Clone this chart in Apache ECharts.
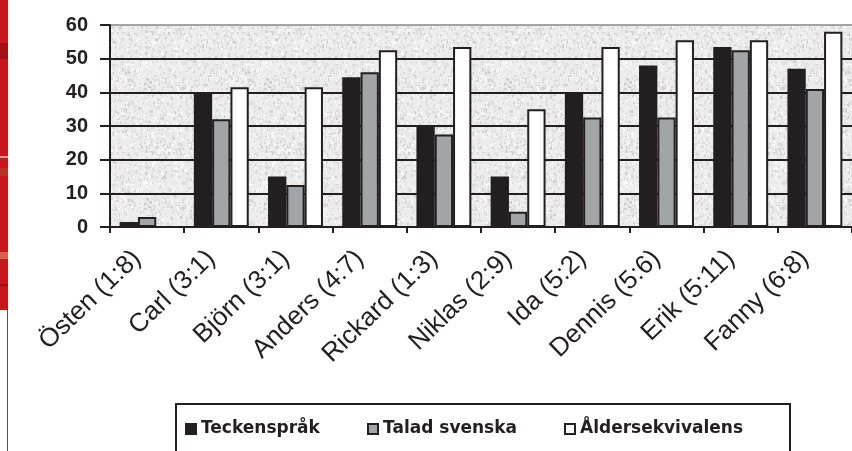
<!DOCTYPE html>
<html>
<head>
<meta charset="utf-8">
<script src="https://cdn.jsdelivr.net/npm/echarts@6/dist/echarts.min.js"></script>
<style>
  html, body { margin: 0; padding: 0; background: #ffffff; }
  #chart { width: 852px; height: 451px; }
</style>
</head>
<body>
<div id="chart"></div>
<script>
// Categories: child name with age (years:months)
const categories = ['Östen (1:8)', 'Carl (3:1)', 'Björn (3:1)', 'Anders (4:7)', 'Rickard (1:3)',
  'Niklas (2:9)', 'Ida (5:2)', 'Dennis (5:6)', 'Erik (5:11)', 'Fanny (6:8)'];

// Series values
const teckensprak      = [1.5, 40, 15, 44.5, 30, 15, 40, 48, 53.5, 47];
const taladSvenska     = [3, 32, 12.5, 46, 27.5, 4.5, 32.5, 32.5, 52.5, 41];
const aldersekvivalens = [null, 41.5, 41.5, 52.5, 53.5, 35, 53.5, 55.5, 55.5, 58];

const seriesNames = ['Teckenspråk', 'Talad svenska', 'Åldersekvivalens'];
const yTicks = { min: 0, max: 60, interval: 10 };

const INK = '#231f20';

// Speckled grey fill for the plot area (deterministic LCG so it never changes)
function speckle() {
  const c = document.createElement('canvas');
  c.width = 120; c.height = 120;
  const g = c.getContext('2d');
  g.fillStyle = '#ececec';
  g.fillRect(0, 0, 120, 120);
  let s = 12345;
  const next = () => { s = (s * 1103515245 + 12345) & 0x7fffffff; return s / 0x7fffffff; };
  for (let i = 0; i < 2000; i++) {
    const x = Math.floor(next() * 120), y = Math.floor(next() * 120);
    const t = next();
    g.fillStyle = t < 0.45 ? '#dcdcdc' : (t < 0.58 ? '#cfcfcf' : '#f7f7f7');
    g.fillRect(x, y, 1 + Math.floor(next() * 2), 1 + Math.floor(next() * 3));
  }
  return c;
}

const chart = echarts.init(document.getElementById('chart'), null, { renderer: 'canvas' });

const barStyle = (fill) => ({ color: fill, borderColor: INK, borderWidth: 2 });

const legendBase = {
  orient: 'horizontal', top: 420, padding: 0,
  itemWidth: 10, itemHeight: 10, icon: 'rect',
  textStyle: { fontFamily: 'DejaVu Sans', fontWeight: 'bold', fontSize: 17, color: INK, lineHeight: 18 },
  selectedMode: false
};

chart.setOption({
  animation: false,
  backgroundColor: '#ffffff',
  grid: {
    show: true, left: 110, top: 25, width: 748, bottom: 224,
    backgroundColor: { image: speckle(), repeat: 'repeat' },
    borderWidth: 0
  },
  legend: [
    Object.assign({}, legendBase, { data: [seriesNames[0]], left: 185 }),
    Object.assign({}, legendBase, { data: [seriesNames[1]], left: 367 }),
    Object.assign({}, legendBase, { data: [seriesNames[2]], left: 564 })
  ],
  graphic: [
    // red band on the left page edge
    { type: 'rect', left: 0, top: 0, shape: { width: 8, height: 310 }, style: { fill: '#c8161d' }, z: -1 },
    { type: 'rect', left: 0, top: 43, shape: { width: 8, height: 16 }, style: { fill: '#a70d14' }, z: -1 },
    { type: 'rect', left: 0, top: 156, shape: { width: 8, height: 2 }, style: { fill: '#e39a8e' }, z: -1 },
    { type: 'rect', left: 0, top: 168, shape: { width: 8, height: 8 }, style: { fill: '#b83226' }, z: -1 },
    { type: 'rect', left: 0, top: 252, shape: { width: 8, height: 7 }, style: { fill: '#d9604c' }, z: -1 },
    { type: 'rect', left: 0, top: 284, shape: { width: 8, height: 2 }, style: { fill: '#9c0c12' }, z: -1 },
    { type: 'line', shape: { x1: 7.5, y1: 310, x2: 7.5, y2: 451 }, style: { stroke: '#555555', lineWidth: 1 }, z: -1 },
    // legend frame
    { type: 'rect', shape: { x: 176, y: 404, width: 614, height: 80 },
      style: { fill: '#ffffff', stroke: INK, lineWidth: 2 }, z: -1 }
  ],
  xAxis: {
    type: 'category',
    data: categories,
    boundaryGap: true,
    axisLine: { show: true, lineStyle: { color: INK, width: 2 } },
    axisTick: { show: true, interval: 0, length: 6, lineStyle: { color: INK, width: 2 } },
    axisLabel: {
      interval: 0, rotate: 44, margin: 18, padding: [0, 14, 0, 0],
      fontFamily: 'Liberation Sans', fontSize: 26, color: INK
    },
    splitLine: { show: false }
  },
  yAxis: {
    type: 'value',
    min: yTicks.min, max: yTicks.max, interval: yTicks.interval,
    axisLine: { show: true, lineStyle: { color: INK, width: 2 } },
    axisTick: { show: true, length: 10, lineStyle: { color: INK, width: 2 } },
    axisLabel: { margin: 22, fontFamily: 'Liberation Sans', fontWeight: 'bold', fontSize: 20, color: INK },
    splitLine: {
      show: true,
      lineStyle: { color: [INK, INK, INK, INK, INK, INK, '#a3a3a3'], width: 2 }
    }
  },
  series: [
    { name: seriesNames[0], type: 'bar', data: teckensprak, barGap: '0%', barCategoryGap: '26%', itemStyle: barStyle(INK) },
    { name: seriesNames[1], type: 'bar', data: taladSvenska, barGap: '0%', barCategoryGap: '26%', itemStyle: barStyle('#a2a5a8') },
    { name: seriesNames[2], type: 'bar', data: aldersekvivalens, barGap: '0%', barCategoryGap: '26%', itemStyle: barStyle('#ffffff') }
  ]
});
</script>
</body>
</html>
